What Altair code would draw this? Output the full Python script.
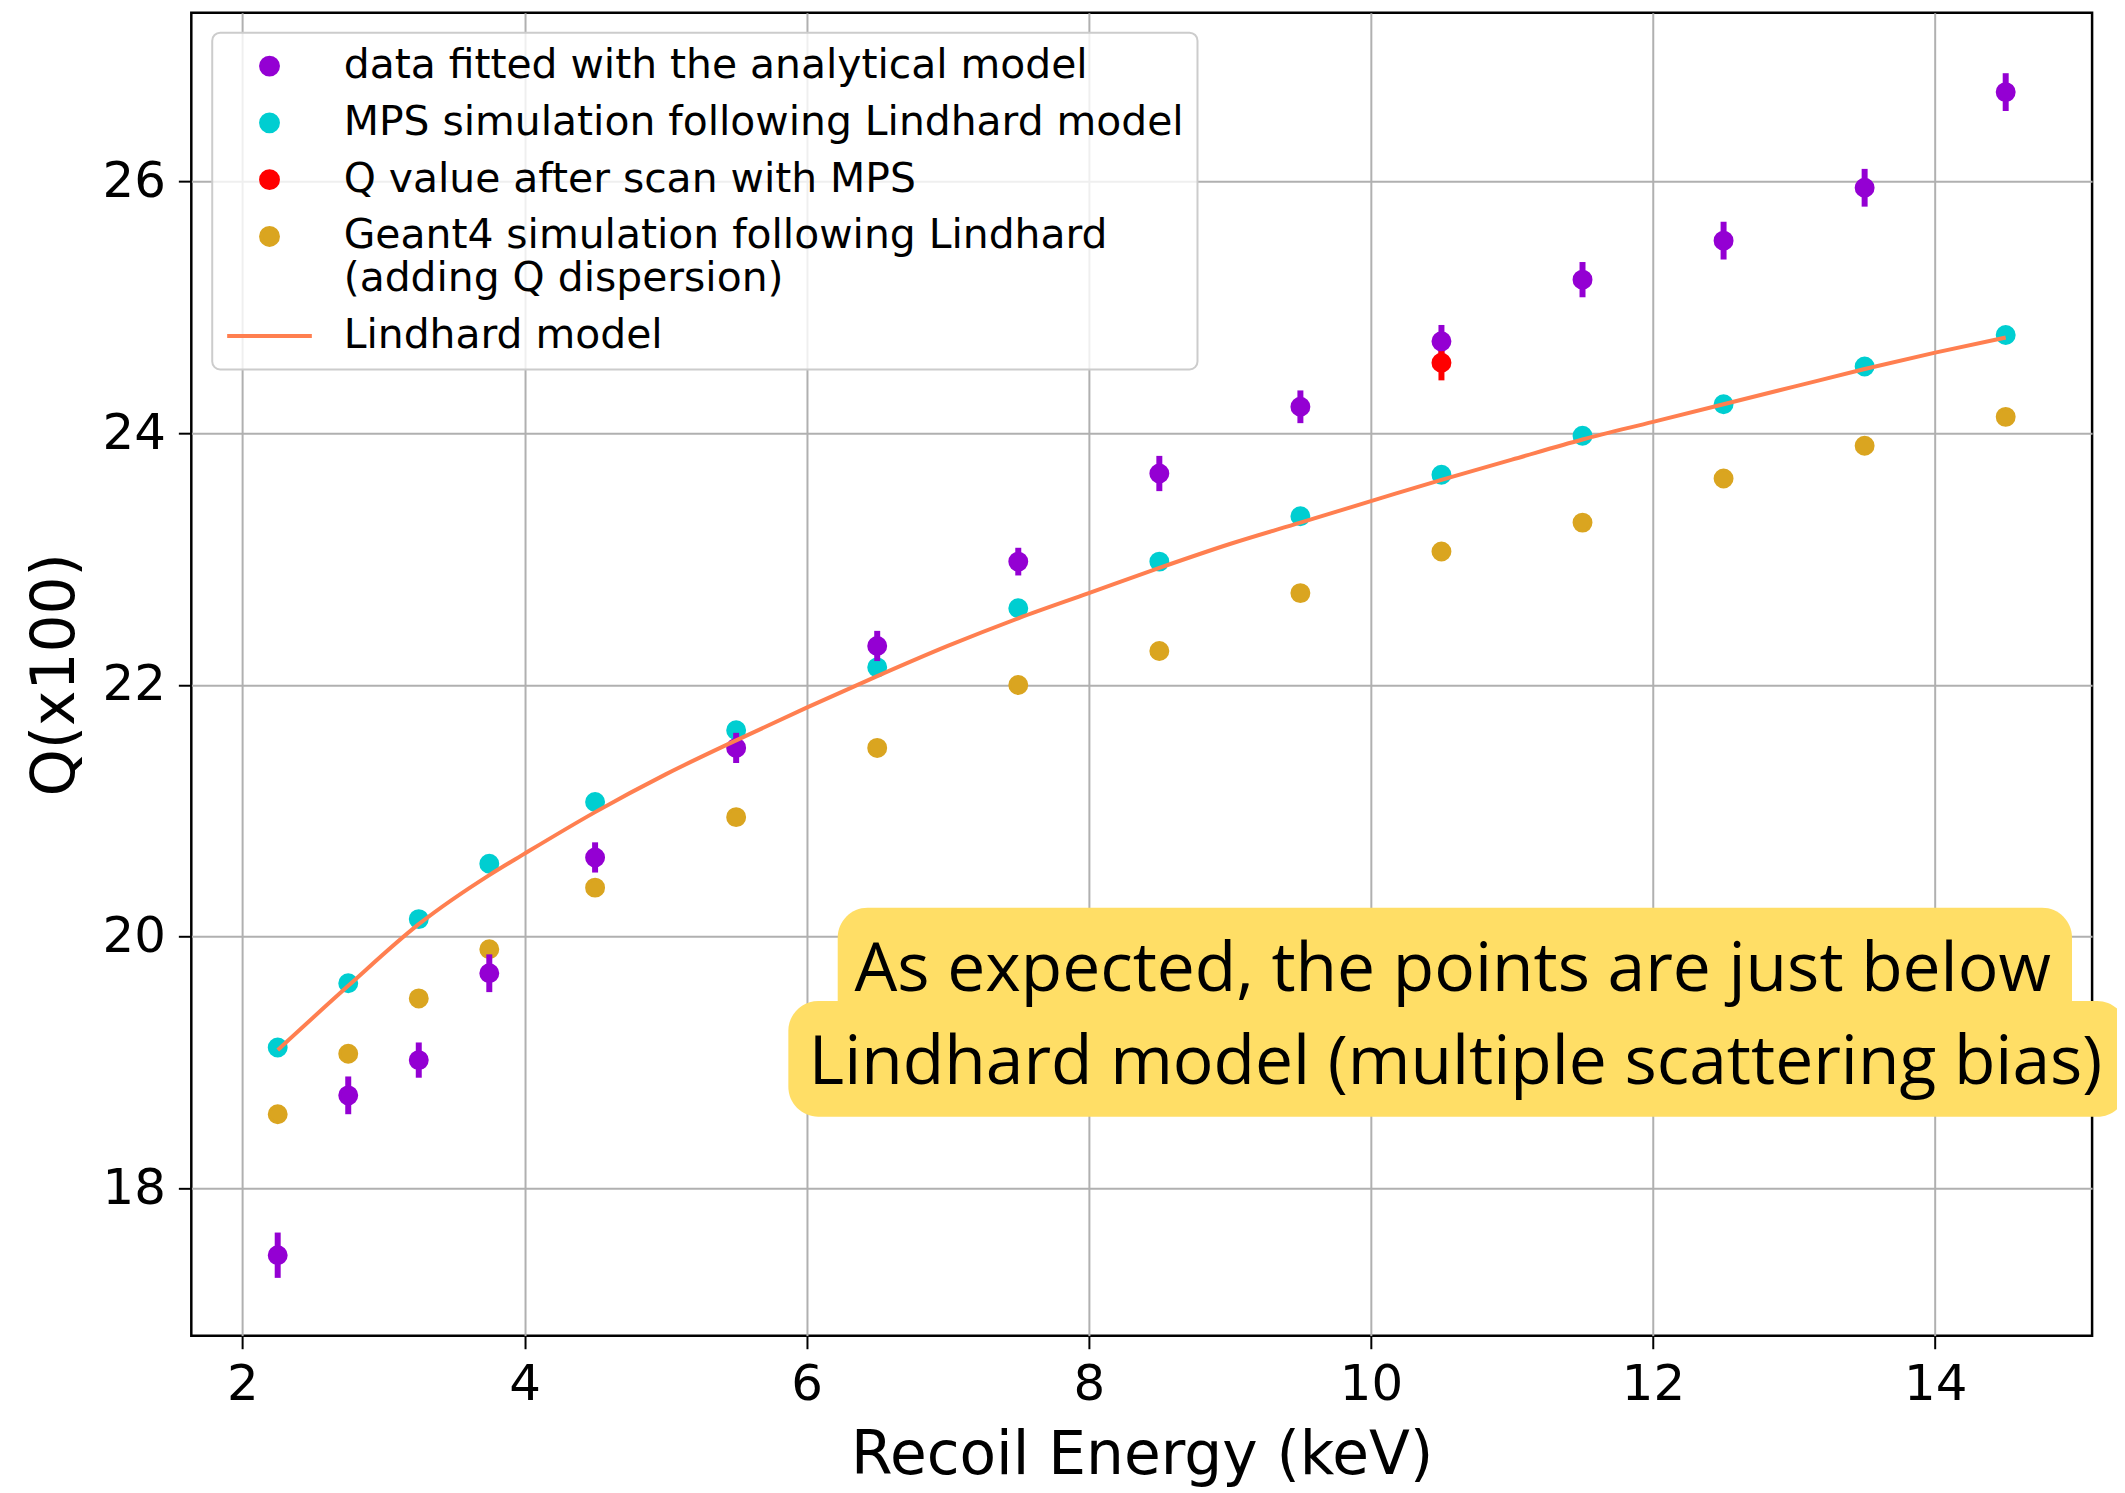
import altair as alt
import pandas as pd

# ---------------- data ----------------
energy = [2.25, 2.75, 3.25, 3.75, 4.5, 5.5, 6.5, 7.5, 8.5, 9.5, 10.5, 11.5, 12.5, 13.5, 14.5]
data_q = [17.47, 18.74, 19.02, 19.71, 20.63, 21.50, 22.31, 22.98, 23.68, 24.21, 24.73, 25.22, 25.53, 25.95, 26.71]
data_err = [0.18, 0.15, 0.14, 0.15, 0.12, 0.12, 0.12, 0.11, 0.14, 0.13, 0.13, 0.14, 0.15, 0.15, 0.15]
mps_q = [19.12, 19.63, 20.14, 20.58, 21.07, 21.64, 22.14, 22.61, 22.98, 23.34, 23.67, 23.98, 24.23, 24.53, 24.78]
geant_q = [18.59, 19.07, 19.51, 19.90, 20.39, 20.95, 21.50, 22.00, 22.27, 22.73, 23.06, 23.29, 23.64, 23.90, 24.13]
scan_energy = [10.5]
scan_q = [24.56]
scan_err = [0.14]
lind_energy = [2.25, 2.75, 3.25, 3.75, 4.0, 4.5, 5.0, 5.5, 6.0, 6.5, 7.0, 7.5, 8.0, 8.5,
               9.0, 9.5, 10.0, 10.5, 11.0, 11.5, 12.0, 12.5, 13.0, 13.5, 14.0, 14.5]
lind_q = [19.10, 19.61, 20.10, 20.49, 20.66, 20.99, 21.29, 21.56, 21.82, 22.07, 22.31, 22.53, 22.73, 22.93,
          23.12, 23.29, 23.46, 23.63, 23.79, 23.95, 24.09, 24.23, 24.37, 24.51, 24.64, 24.76]

x_ticks = [2, 4, 6, 8, 10, 12, 14]
y_ticks = [18, 20, 22, 24, 26]

S_DATA = "data fitted with the analytical model"
S_MPS = "MPS simulation following Lindhard model"
S_SCAN = "Q value after scan with MPS"
S_G4 = "Geant4 simulation following Lindhard|\u2002(adding Q dispersion)"
S_LIN = "Lindhard model"
series = [S_DATA, S_MPS, S_SCAN, S_G4, S_LIN]
colors = ["#9400D3", "#00CED1", "#FF0000", "#DAA520", "#FF7F50"]

note_lines = ["As expected, the points are just below",
              "Lindhard model (multiple scattering bias)"]

# ---------------- tables ----------------
pts = pd.concat([
    pd.DataFrame({"x": energy, "q": mps_q, "err": 0.0, "series": S_MPS}),
    pd.DataFrame({"x": energy, "q": geant_q, "err": 0.0, "series": S_G4}),
    pd.DataFrame({"x": energy, "q": data_q, "err": data_err, "series": S_DATA}),
    pd.DataFrame({"x": scan_energy, "q": scan_q, "err": scan_err, "series": S_SCAN}),
], ignore_index=True)
pts["lo"] = pts["q"] - pts["err"]
pts["hi"] = pts["q"] + pts["err"]
pts["order"] = range(len(pts))

lind = pd.DataFrame({"x": lind_energy, "q": lind_q, "series": S_LIN})

boxes = pd.DataFrame({"x1": [6.22, 5.87], "x2": [14.97, 15.36],
                      "y1": [20.23, 19.49], "y2": [19.20, 18.57]})
notes = pd.DataFrame({"x": [10.58, 10.60], "y": [19.57, 18.83], "t": note_lines})

# ---------------- scales ----------------
fill_scale = alt.Scale(domain=series, range=colors)
stroke_scale = alt.Scale(domain=series, range=colors)
# the legend entry of the model curve is a long horizontal stroke (custom path)
shape_scale = alt.Scale(domain=series,
                        range=["circle", "circle", "circle", "circle", "M-5,0H5"])

xs = alt.Scale(domain=[1.6375, 15.1125], nice=False, zero=False)
ys = alt.Scale(domain=[16.83, 27.34], nice=False, zero=False)

x_axis = alt.Axis(values=x_ticks, title="Recoil Energy (keV)", labelPadding=11,
                  titlePadding=17, format="d", labelFlush=False)
y_axis = alt.Axis(values=y_ticks, title="Q(x100)", labelPadding=13, titlePadding=16,
                  format="d", labelFlush=False)

legend = alt.Legend(
    title=None, orient="none", legendX=21, legendY=20, direction="vertical",
    labelFont="DejaVu Sans", labelFontSize=41, labelColor="black",
    labelExpr="split(datum.label, '|')", labelOffset=54, labelLimit=2000,
    labelBaseline="middle",
    padding=13, rowPadding=15, fillColor="rgba(255,255,255,0.8)",
    strokeColor="#cccccc", cornerRadius=8,
    symbolSize=289, symbolOffset=24,
    symbolStrokeWidth=4, symbolOpacity=1,
)

base = alt.Chart(pts)

scatter_sim = base.transform_filter(
    alt.FieldOneOfPredicate(field="series", oneOf=[S_MPS, S_G4])
).mark_point(filled=True, opacity=1, strokeWidth=3, size=289).encode(
    x=alt.X("x:Q", scale=xs, axis=x_axis),
    y=alt.Y("q:Q", scale=ys, axis=y_axis),
    fill=alt.Fill("series:N", scale=fill_scale, legend=legend),
    stroke=alt.Stroke("series:N", scale=stroke_scale, legend=legend),
    shape=alt.Shape("series:N", scale=shape_scale, legend=legend),
    order=alt.Order("order:Q"),
)

bars = base.transform_filter(
    alt.FieldOneOfPredicate(field="series", oneOf=[S_DATA, S_SCAN])
).mark_rule(strokeWidth=6).encode(
    x=alt.X("x:Q", scale=xs),
    y=alt.Y("lo:Q", scale=ys),
    y2="hi:Q",
    stroke=alt.Stroke("series:N", scale=stroke_scale, legend=None),
)

scatter_data = base.transform_filter(
    alt.FieldOneOfPredicate(field="series", oneOf=[S_DATA, S_SCAN])
).mark_point(filled=True, opacity=1, strokeWidth=3, size=289).encode(
    x=alt.X("x:Q", scale=xs),
    y=alt.Y("q:Q", scale=ys),
    fill=alt.Fill("series:N", scale=fill_scale, legend=None),
    stroke=alt.Stroke("series:N", scale=stroke_scale, legend=None),
    shape=alt.Shape("series:N", scale=shape_scale, legend=None),
    order=alt.Order("order:Q"),
)

line = alt.Chart(lind).mark_line(strokeWidth=4, interpolate="monotone").encode(
    x=alt.X("x:Q", scale=xs),
    y=alt.Y("q:Q", scale=ys),
    stroke=alt.Stroke("series:N", scale=stroke_scale, legend=None),
)

box = alt.Chart(boxes).mark_rect(color="#FFDE66", cornerRadius=30, clip=False).encode(
    x=alt.X("x1:Q", scale=xs), x2="x2:Q",
    y=alt.Y("y1:Q", scale=ys), y2="y2:Q",
)

text = alt.Chart(notes).mark_text(
    font="Open Sans", fontSize=68, color="black", align="center", baseline="alphabetic"
).encode(
    x=alt.X("x:Q", scale=xs),
    y=alt.Y("y:Q", scale=ys),
    text="t:N",
)

chart = alt.layer(scatter_sim, bars, scatter_data, line, box, text).properties(
    width=1908, height=1328,
    autosize=alt.AutoSizeParams(type="none"),
    padding={"left": 184, "top": 2, "right": 25, "bottom": 150},
).configure_view(
    stroke="black", strokeWidth=2.5
).configure_legend(
    strokeWidth=2
).configure_axis(
    grid=True, gridColor="#b0b0b0", gridWidth=2, domain=False,
    tickColor="black", tickWidth=2, tickSize=13,
    labelFont="DejaVu Sans", labelFontSize=50, labelColor="black",
    titleFont="DejaVu Sans", titleFontSize=60, titleFontWeight="normal", titleColor="black",
)

chart.save("out.html", embed_options={"renderer": "svg", "actions": False})
